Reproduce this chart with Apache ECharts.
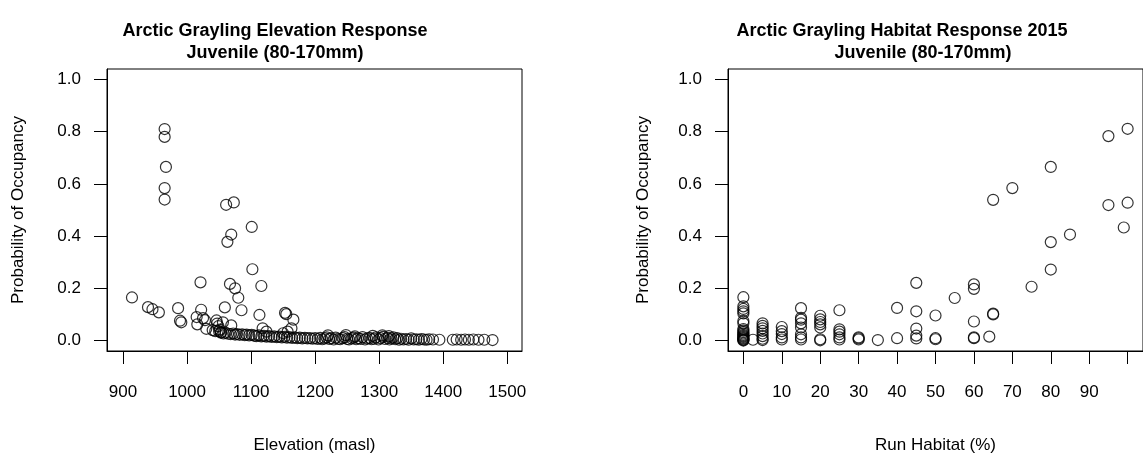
<!DOCTYPE html>
<html>
<head>
<meta charset="utf-8">
<script src="https://cdn.jsdelivr.net/npm/echarts@6/dist/echarts.min.js"></script>
<style>
  html, body { margin: 0; padding: 0; background: #fff; }
  #chart { width: 1143px; height: 459px; }
</style>
</head>
<body>
<div id="chart"></div>
<script>
// elevation (masl) vs probability of occupancy
var elevPoints = [
    [965, 0.810], [965, 0.780], [967, 0.665], [965, 0.584], [965, 0.540],
    [1061, 0.520], [1073, 0.529], [1101, 0.435], [1069, 0.406], [1063, 0.378],
    [1102, 0.273], [1021, 0.223], [1067, 0.217], [1116, 0.209], [1075, 0.200], [1080, 0.164],
    [914, 0.165], [939, 0.128], [946, 0.120], [956, 0.108], [986, 0.124],
    [1059, 0.127], [1085, 0.116], [1113, 0.098], [1153, 0.106], [1155, 0.101],
    [989, 0.076], [991, 0.070],
    [1022, 0.118], [1015, 0.090], [1025, 0.086], [1028, 0.078], [1016, 0.062], [1030, 0.045],
    [1046, 0.077], [1056, 0.070], [1049, 0.055], [1051, 0.042], [1069, 0.058],
    [1047, 0.065], [1050, 0.036], [1053, 0.032],
    [1166, 0.080], [1163, 0.047], [1157, 0.034], [1118, 0.047], [1124, 0.034], [1150, 0.028],
    [1040, 0.040], [1044, 0.036], [1053, 0.030], [1057, 0.027], [1060, 0.030], [1064, 0.026],
    [1068, 0.025], [1072, 0.027], [1075, 0.023], [1078, 0.025], [1082, 0.022], [1086, 0.024],
    [1090, 0.021], [1093, 0.023], [1097, 0.020], [1101, 0.022], [1105, 0.019], [1108, 0.017],
    [1112, 0.020], [1116, 0.016], [1120, 0.018], [1124, 0.015], [1128, 0.017], [1132, 0.014],
    [1136, 0.016], [1140, 0.013], [1144, 0.015], [1148, 0.012], [1152, 0.014], [1156, 0.011],
    [1160, 0.013], [1164, 0.010], [1168, 0.012], [1172, 0.009], [1176, 0.011], [1180, 0.008],
    [1184, 0.010], [1188, 0.008], [1192, 0.009], [1196, 0.007],
    [1200, 0.009], [1204, 0.006], [1208, 0.010], [1211, 0.005], [1215, 0.008], [1218, 0.012],
    [1222, 0.006], [1225, 0.009], [1229, 0.004], [1232, 0.011], [1236, 0.007], [1239, 0.005],
    [1243, 0.009], [1246, 0.013], [1250, 0.006], [1253, 0.004], [1257, 0.008], [1260, 0.011],
    [1264, 0.005], [1267, 0.009], [1271, 0.006], [1274, 0.013], [1278, 0.004], [1281, 0.008],
    [1285, 0.010], [1288, 0.005], [1292, 0.007], [1295, 0.012], [1299, 0.004], [1302, 0.009],
    [1306, 0.014], [1309, 0.006], [1313, 0.010], [1316, 0.004], [1319, 0.008], [1322, 0.012],
    [1325, 0.005], [1328, 0.009], [1331, 0.003], [1334, 0.007],
    [1220, 0.020], [1248, 0.021], [1262, 0.016], [1290, 0.018], [1305, 0.020], [1315, 0.017],
    [1338, 0.004], [1342, 0.006], [1346, 0.003], [1350, 0.008], [1354, 0.004], [1358, 0.005],
    [1362, 0.003], [1366, 0.006], [1370, 0.004], [1374, 0.003], [1378, 0.005], [1384, 0.004],
    [1394, 0.003], [1415, 0.003], [1421, 0.004], [1428, 0.003], [1434, 0.004], [1440, 0.003],
    [1447, 0.004], [1455, 0.003], [1464, 0.003], [1477, 0.002]
];

// run habitat (%) vs probability of occupancy
var runPoints = [
    [0, 0.166], [0, 0.131], [0, 0.121], [0, 0.112], [0, 0.104], [0, 0.075], [0, 0.066],
    [0, 0.044], [0, 0.038], [0, 0.032], [0, 0.027], [0, 0.022], [0, 0.018], [0, 0.014],
    [0, 0.010], [0, 0.007], [0, 0.004], [0, 0.002], [0, 0.0],
    [2.5, 0.003],
    [5, 0.066], [5, 0.056], [5, 0.047], [5, 0.037], [5, 0.027], [5, 0.017], [5, 0.007], [5, 0.002],
    [10, 0.052], [10, 0.036], [10, 0.025], [10, 0.012], [10, 0.004],
    [15, 0.124], [15, 0.087], [15, 0.080], [15, 0.066], [15, 0.050], [15, 0.024], [15, 0.012], [15, 0.004],
    [20, 0.095], [20, 0.081], [20, 0.071], [20, 0.062], [20, 0.050], [20, 0.005], [20, 0.001],
    [25, 0.116], [25, 0.043], [25, 0.034], [25, 0.024], [25, 0.012], [25, 0.004],
    [30, 0.012], [30, 0.008], [30, 0.004],
    [35, 0.002],
    [40, 0.125], [40, 0.009],
    [45, 0.221], [45, 0.112], [45, 0.046], [45, 0.019], [45, 0.008],
    [50, 0.096], [50, 0.009], [50, 0.005],
    [55, 0.163],
    [60, 0.215], [60, 0.198], [60, 0.073], [60, 0.012], [60, 0.009],
    [64, 0.015],
    [65, 0.539], [65, 0.103], [65, 0.100],
    [70, 0.584],
    [75, 0.206],
    [80, 0.665], [80, 0.377], [80, 0.272],
    [85, 0.406],
    [95, 0.783], [95, 0.519],
    [99, 0.433],
    [100, 0.811], [100, 0.528]
];

var probTicks = [0, 0.2, 0.4, 0.6, 0.8, 1.0];
var elevTicks = [900, 1000, 1100, 1200, 1300, 1400, 1500];
var runTicks = [0, 10, 20, 30, 40, 50, 60, 70, 80, 90, 100];
var runLabels = [0, 10, 20, 30, 40, 50, 60, 70, 80, 90];

var FONT = 'Liberation Sans';
var TITLE_STYLE = {color: '#000', fontFamily: FONT, fontSize: 18, fontWeight: 'bold', lineHeight: 22};

function make_x_axis(idx, min, max, ticks, labels, name) {
    return {
        type: 'value',
        gridIndex: idx,
        min: min,
        max: max,
        name: name,
        nameLocation: 'middle',
        nameGap: 86,
        nameTextStyle: {color: '#000', fontFamily: FONT, fontSize: 17},
        axisLine: {show: true, onZero: false, lineStyle: {color: '#000', width: 1}},
        axisTick: {show: true, length: 13, customValues: ticks, lineStyle: {color: '#000', width: 1}},
        axisLabel: {
            customValues: labels, margin: 33, color: '#000', fontFamily: FONT, fontSize: 17,
            formatter: function (v) { return String(v) }
        },
        splitLine: {show: false}
    }
}

function make_y_axis(idx, gap) {
    return {
        type: 'value',
        gridIndex: idx,
        min: -0.04,
        max: 1.04,
        name: 'Probability of Occupancy',
        nameLocation: 'middle',
        nameGap: gap,
        nameTextStyle: {color: '#000', fontFamily: FONT, fontSize: 17},
        axisLine: {show: true, onZero: false, lineStyle: {color: '#000', width: 1}},
        axisTick: {show: true, length: 13, customValues: probTicks, lineStyle: {color: '#000', width: 1}},
        axisLabel: {
            customValues: probTicks, margin: 26, color: '#000', fontFamily: FONT, fontSize: 17,
            formatter: function (v) { return v.toFixed(1) }
        },
        splitLine: {show: false}
    }
}

function make_series(idx, data) {
    return {
        type: 'scatter',
        xAxisIndex: idx,
        yAxisIndex: idx,
        data: data,
        symbol: 'circle',
        symbolSize: 11,
        itemStyle: {color: 'rgba(0,0,0,0)', borderColor: '#000', borderWidth: 1.2},
        emphasis: {disabled: true},
        clip: false
    }
}

var chart = echarts.init(document.getElementById('chart'));
chart.setOption({
    animation: false,
    backgroundColor: '#fff',
    title: [
        {text: 'Arctic Grayling Elevation Response', left: 270, top: 15, textAlign: 'center', textStyle: TITLE_STYLE},
        {text: 'Juvenile (80-170mm)', left: 270, top: 37, textAlign: 'center', textStyle: TITLE_STYLE},
        {text: 'Arctic Grayling Habitat Response 2015', left: 897, top: 15, textAlign: 'center', textStyle: TITLE_STYLE},
        {text: 'Juvenile (80-170mm)', left: 918, top: 37, textAlign: 'center', textStyle: TITLE_STYLE}
    ],
    grid: [
        {left: 107, top: 69, width: 415, height: 295, show: true, borderColor: '#000', borderWidth: 1, backgroundColor: 'transparent'},
        {left: 728, top: 69, width: 420, height: 295, show: true, borderColor: '#000', borderWidth: 1, backgroundColor: 'transparent'}
    ],
    xAxis: [
        make_x_axis(0, 875, 1523, elevTicks, elevTicks, 'Elevation (masl)'),
        make_x_axis(1, -4, 104, runTicks, runLabels, 'Run Habitat (%)')
    ],
    yAxis: [make_y_axis(0, 80), make_y_axis(1, 76)],
    series: [make_series(0, elevPoints), make_series(1, runPoints)]
});
</script>
</body>
</html>
